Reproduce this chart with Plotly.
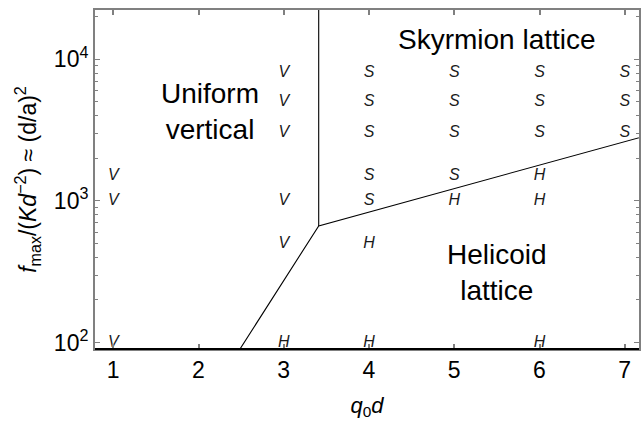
import math
import plotly.graph_objects as go

# phase points (q0*d, f_max, phase letter)
V_X = [1, 1, 1, 3, 3, 3, 3, 3]
V_Y = [1500, 1000, 100, 8000, 5000, 3000, 1000, 500]
S_X = [4, 4, 4, 4, 4, 5, 5, 5, 5, 6, 6, 6, 7, 7, 7]
S_Y = [8000, 5000, 3000, 1500, 1000, 8000, 5000, 3000, 1500, 8000, 5000, 3000, 8000, 5000, 3000]
H_X = [3, 4, 4, 5, 6, 6, 6]
H_Y = [100, 500, 100, 1000, 1500, 1000, 100]

# phase boundaries
VERT_X = [3.41, 3.41]
VERT_Y = [667, 30000]
SLOPE_X = [2.46, 3.41, 7.3]
SLOPE_Y = [85, 667, 2940]

X_TICKS = [1, 2, 3, 4, 5, 6, 7]
Y_TICKS = [100, 1000, 10000]
Y_TICKTEXT = ['10<sup>2</sup>', '10<sup>3</sup>', '10<sup>4</sup>']
Y_MINOR = [m * 10 ** e for e in (1, 2, 3, 4) for m in range(2, 10)]

REGION_X = [2.13, 5.5, 5.5]
REGION_Y = [4250, 13700, 315]
REGION_TEXT = ['Uniform<br>vertical', 'Skyrmion lattice', 'Helicoid<br>lattice']

FONT = 'Arial, Liberation Sans, sans-serif'
INK = '#1a1a1a'
FRAME = '#808080'

fig = go.Figure()

for xs, ys, letter in [(V_X, V_Y, 'V'), (S_X, S_Y, 'S'), (H_X, H_Y, 'H')]:
    fig.add_trace(go.Scatter(
        x=xs, y=ys, mode='text', text=[f'<i>{letter}</i>'] * len(xs),
        textposition='middle center',
        textfont=dict(family=FONT, size=16, color=INK),
        showlegend=False, hoverinfo='skip'))

for xs, ys in [(VERT_X, VERT_Y), (SLOPE_X, SLOPE_Y)]:
    fig.add_trace(go.Scatter(x=xs, y=ys, mode='lines',
                             line=dict(color='black', width=1.1),
                             showlegend=False, hoverinfo='skip'))

# annotations on a log axis take log10 of the value
for rx, ry, txt in zip(REGION_X, REGION_Y, REGION_TEXT):
    fig.add_annotation(x=rx, y=math.log10(ry), text=txt, showarrow=False,
                       font=dict(family=FONT, size=28, color='black'),
                       xanchor='center', yanchor='middle', align='center')

fig.update_layout(
    width=642, height=422,
    margin=dict(l=95, r=1, t=10, b=73),
    paper_bgcolor='white', plot_bgcolor='white',
    font=dict(family=FONT, color='black'),
    # bottom edge of the frame is black, the rest grey
    shapes=[dict(type='line', xref='paper', yref='paper', x0=0, x1=1, y0=0, y1=0,
                 line=dict(color='black', width=1.8), layer='above')],
)

fig.update_xaxes(
    range=[0.786, 7.167], tickvals=X_TICKS, showgrid=False, zeroline=False,
    showline=True, linecolor=FRAME, linewidth=1.5, mirror='ticks',
    ticks='inside', ticklen=5, tickcolor=FRAME, tickwidth=1.5,
    tickfont=dict(size=23, family=FONT, color='black'),
    title=dict(text='<i>q</i><sub>0</sub><i>d</i>', font=dict(size=22, family=FONT), standoff=15),
)
fig.update_yaxes(
    type='log', range=[1.955, 4.348], tickvals=Y_TICKS, ticktext=Y_TICKTEXT,
    showgrid=False, zeroline=False,
    showline=True, linecolor=FRAME, linewidth=2, mirror='ticks',
    ticks='inside', ticklen=5, tickcolor=FRAME, tickwidth=1.2,
    minor=dict(tickvals=Y_MINOR, ticks='inside', ticklen=3, tickcolor=FRAME, showgrid=False),
    tickfont=dict(size=23, family=FONT, color='black'),
    title=dict(text='<i>f</i><sub>max</sub>/(<i>Kd</i><sup>−2</sup>) ≈ (d/a)<sup>2</sup>',
               font=dict(size=23, family=FONT), standoff=11),
)

# drop the default page margin so the figure fills the window exactly
fig.write_html('out.html', config={'displayModeBar': False},
               post_script="document.body.style.margin='0';document.body.style.overflow='hidden';")
